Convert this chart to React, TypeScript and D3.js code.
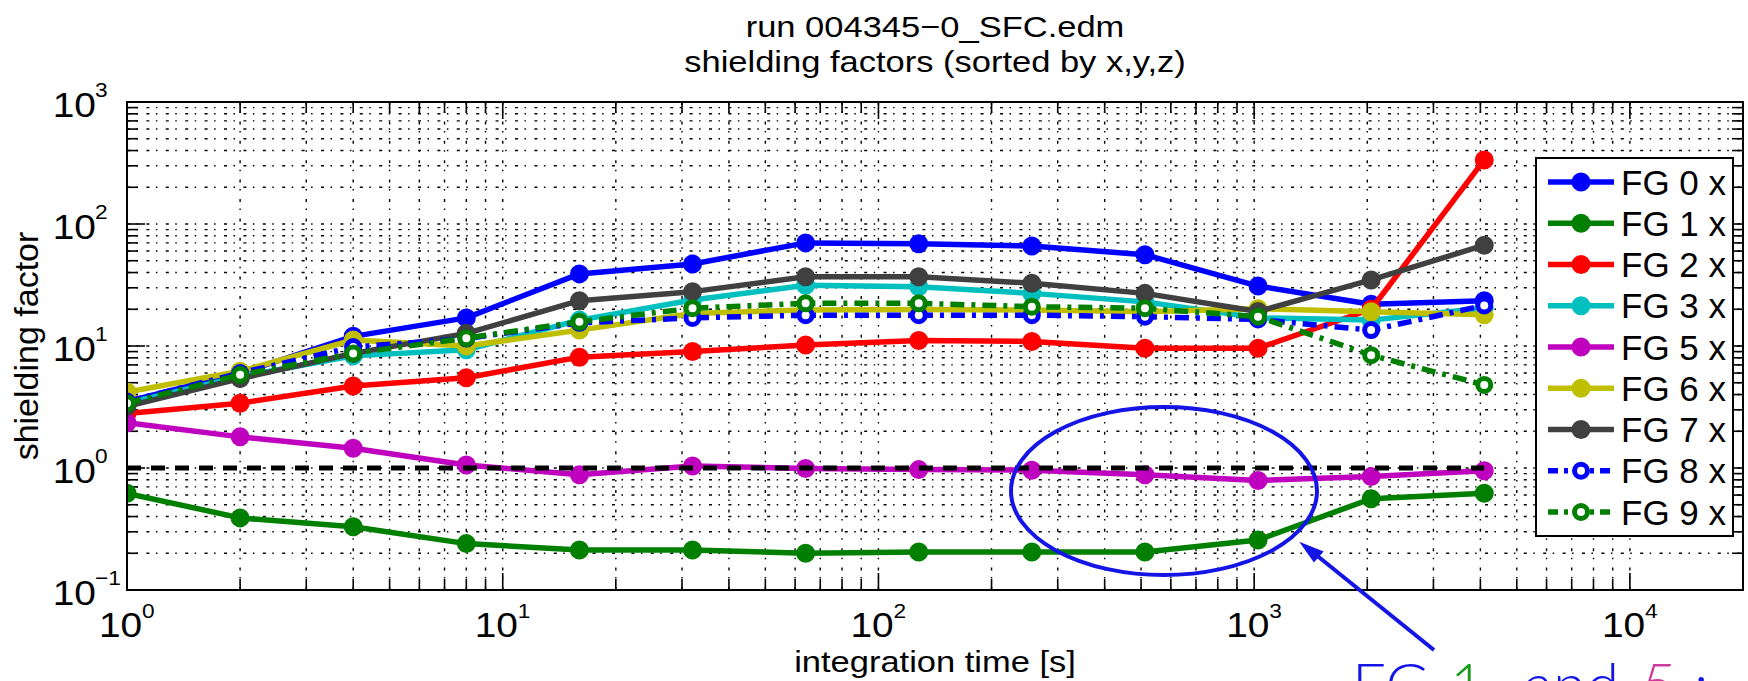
import React from "react";
import * as d3 from "d3";

// ---------- data ----------
const xTimes = [1, 2, 4, 8, 16, 32, 64, 128, 256, 512, 1024, 2048, 4096];
const fg0 = [3.5, 6.0, 12, 17, 39, 47, 70, 69, 66, 56, 31, 22, 23.5];
const fg1 = [0.62, 0.39, 0.33, 0.24, 0.213, 0.213, 0.2, 0.205, 0.205, 0.205, 0.257, 0.56, 0.62];
const fg2 = [2.8, 3.4, 4.7, 5.5, 8.1, 9.0, 10.2, 11.1, 10.9, 9.6, 9.6, 20, 335];
const fg3 = [3.4, 5.6, 8.3, 9.3, 16.3, 23.8, 31.5, 30.6, 27, 23, 17, 16.3, 20.5];
const fg5 = [2.35, 1.8, 1.45, 1.06, 0.88, 1.04, 0.99, 0.97, 0.96, 0.88, 0.79, 0.85, 0.95];
const fg6 = [4.2, 6.2, 11.2, 10, 13.5, 18.5, 19.7, 19.9, 19.7, 19.1, 20.2, 19.1, 18];
const fg7 = [3.2, 5.4, 8.7, 12.7, 23.5, 27.9, 37, 37, 32.7, 27, 19.2, 34.8, 67];
const fg8 = [3.5, 6.0, 9.8, 11.5, 15.5, 17, 17.9, 17.9, 17.9, 17.4, 16.5, 13.5, 21.5];
const fg9 = [3.4, 5.8, 8.7, 11.6, 15.8, 20.4, 22.4, 22.4, 21, 20.4, 17.4, 8.4, 4.8];
const seriesNames = ["FG 0 x", "FG 1 x", "FG 2 x", "FG 3 x", "FG 5 x", "FG 6 x", "FG 7 x", "FG 8 x", "FG 9 x"];
const refX = [1, 4096];
const refY = [1, 1];
const xTickExps = [0, 1, 2, 3, 4];
const yTickExps = [-1, 0, 1, 2, 3];
const titleLines = ["run 004345\u22120_SFC.edm", "shielding factors (sorted by x,y,z)"];
const xLabel = "integration time [s]";
const yLabel = "shielding factor";

// ---------- styles ----------
const seriesValues = [fg0, fg1, fg2, fg3, fg5, fg6, fg7, fg8, fg9];
const seriesColors = ["#0000ff", "#007f00", "#ff0000", "#00bfbf", "#bf00bf", "#bfbf00", "#404040", "#0000ff", "#007f00"];
const seriesDashed = [false, false, false, false, false, false, false, true, true];

const W = 1748;
const H = 681;
const L = 127, R = 1743, TOP = 102, BOT = 590;
const FONT = "'Liberation Sans', Arial, Helvetica, sans-serif";

const xScale = d3.scaleLog().domain([1, 20000]).range([L, R]);
const yScale = d3.scaleLog().domain([0.1, 1000]).range([BOT, TOP]);

function gridValues(lo: number, hi: number) {
  const out: { v: number; major: boolean }[] = [];
  for (let e = Math.floor(Math.log10(lo)); e <= Math.ceil(Math.log10(hi)); e++) {
    for (let k = 1; k <= 9; k++) {
      const v = k * Math.pow(10, e);
      if (v >= lo * 0.999 && v <= hi * 1.001) out.push({ v, major: k === 1 });
    }
  }
  return out;
}

const T = ({ x, y, sx = 1, size, anchor = "start", fill = "#000", children, weight = "normal", italic = false, family = FONT }: any) => (
  <text
    transform={`translate(${x},${y}) scale(${sx},1)`}
    fontSize={size}
    textAnchor={anchor}
    fill={fill}
    fontFamily={family}
    fontWeight={weight}
    fontStyle={italic ? "italic" : "normal"}
  >
    {children}
  </text>
);

function Marker({ cx, cy, color, open }: any) {
  if (open) return <circle cx={cx} cy={cy} r={6.5} fill="#fff" stroke={color} strokeWidth={5} />;
  return <circle cx={cx} cy={cy} r={7.5} fill={color} stroke={color} strokeWidth={4} />;
}

export default function App() {
  const xs = gridValues(1, 20000);
  const ys = gridValues(0.1, 1000);
  const line = d3
    .line<number>()
    .x((_, i) => xScale(xTimes[i]))
    .y((d) => yScale(d));
  const refLine = d3
    .line<number>()
    .x((_, i) => xScale(refX[i]))
    .y((d) => yScale(d));

  const gridDash = "3,6.5,1.5,8.4";
  const legX0 = 1536, legX1 = 1733, legY0 = 158, legY1 = 536;
  const legStep = (legY1 - legY0 - 48) / (seriesNames.length - 1);

  const blue = "#1414e6";

  return (
    <svg width={W} height={H} style={{ position: "absolute", left: 0, top: 0, background: "#fff" }}>
      <rect x={0} y={0} width={W} height={H} fill="#fff" />
      <defs>
        <clipPath id="plot">
          <rect x={L} y={TOP} width={R - L} height={BOT - TOP} />
        </clipPath>
      </defs>

      {/* grid */}
      <g stroke="#000" strokeWidth={1.4} strokeDasharray={gridDash} clipPath="url(#plot)">
        {xs.map((g, i) => (
          <line key={"gx" + i} x1={xScale(g.v)} x2={xScale(g.v)} y1={TOP} y2={BOT} />
        ))}
        {ys.map((g, i) => (
          <line key={"gy" + i} x1={L} x2={R} y1={yScale(g.v)} y2={yScale(g.v)} />
        ))}
      </g>

      {/* ticks */}
      <g stroke="#000" strokeWidth={1.6}>
        {xs.map((g, i) => {
          const len = g.major ? 17 : 11;
          const x = xScale(g.v);
          return (
            <g key={"tx" + i}>
              <line x1={x} x2={x} y1={BOT} y2={BOT - len} />
              <line x1={x} x2={x} y1={TOP} y2={TOP + len} />
            </g>
          );
        })}
        {ys.map((g, i) => {
          const len = g.major ? 18 : 11;
          const y = yScale(g.v);
          return (
            <g key={"ty" + i}>
              <line x1={L} x2={L + len} y1={y} y2={y} />
              <line x1={R} x2={R - len} y1={y} y2={y} />
            </g>
          );
        })}
      </g>

      {/* series */}
      <g clipPath="url(#plot)">
        {seriesValues.map((vals, si) => (
          <g key={"s" + si}>
            <path
              d={line(vals) || ""}
              fill="none"
              stroke={seriesColors[si]}
              strokeWidth={5.5}
              strokeLinejoin="round"
              strokeDasharray={seriesDashed[si] ? "14,7,4,7" : undefined}
            />
            {vals.map((v, i) => (
              <Marker key={i} cx={xScale(xTimes[i])} cy={yScale(v)} color={seriesColors[si]} open={seriesDashed[si]} />
            ))}
          </g>
        ))}
        <path d={refLine(refY) || ""} fill="none" stroke="#000" strokeWidth={5} strokeDasharray="14,10" />
      </g>

      {/* frame */}
      <rect x={L} y={TOP} width={R - L} height={BOT - TOP} fill="none" stroke="#000" strokeWidth={2} />

      {/* x tick labels */}
      {xTickExps.map((e) => {
        const x = xScale(Math.pow(10, e));
        return (
          <g key={"xl" + e}>
            <T x={x - 28} y={637} sx={1.08} size={36}>10</T>
            <T x={x + 15} y={618} sx={1.08} size={21}>{e < 0 ? "\u2212" + Math.abs(e) : String(e)}</T>
          </g>
        );
      })}

      {/* y tick labels */}
      {yTickExps.map((e) => {
        const y = yScale(Math.pow(10, e));
        return (
          <g key={"yl" + e}>
            <T x={96} y={y + 15} sx={1.08} size={36} anchor="end">10</T>
            <T x={95} y={y - 5} sx={1.08} size={21}>{e < 0 ? "\u2212" + Math.abs(e) : String(e)}</T>
          </g>
        );
      })}

      {/* titles */}
      <T x={(L + R) / 2} y={37} sx={1.15} size={30} anchor="middle">{titleLines[0]}</T>
      <T x={(L + R) / 2} y={72} sx={1.15} size={30} anchor="middle">{titleLines[1]}</T>
      <T x={(L + R) / 2} y={672} sx={1.15} size={30} anchor="middle">{xLabel}</T>
      <text transform={`translate(38,${(TOP + BOT) / 2}) rotate(-90)`} fontSize={34} textAnchor="middle" fontFamily={FONT} fill="#000">
        {yLabel}
      </text>

      {/* legend */}
      <rect x={legX0} y={legY0} width={legX1 - legX0} height={legY1 - legY0} fill="#fff" stroke="#000" strokeWidth={2} />
      {seriesNames.map((name, i) => {
        const cy = legY0 + 24 + i * legStep;
        return (
          <g key={"lg" + i}>
            <line
              x1={1548}
              x2={1614}
              y1={cy}
              y2={cy}
              stroke={seriesColors[i]}
              strokeWidth={5.5}
              strokeDasharray={seriesDashed[i] ? "10,6,4,6" : undefined}
            />
            <Marker cx={1581} cy={cy} color={seriesColors[i]} open={seriesDashed[i]} />
            <T x={1621} y={cy + 12.5} size={35}>{name}</T>
          </g>
        );
      })}

      {/* annotation */}
      <ellipse cx={1164} cy={491} rx={153} ry={84} fill="none" stroke={blue} strokeWidth={4} />
      <line x1={1434} y1={650} x2={1310} y2={550} stroke={blue} strokeWidth={4} />
      <polygon points="1302,544 1322,552 1314,561" fill={blue} stroke={blue} strokeWidth={2} />
      <g>
        <T x={1352} y={706} size={60} fill={blue} family="Lato, 'Open Sans', sans-serif" weight={300}>FG</T>
        <T x={1450} y={706} size={60} fill="#1a9a1a" family="Lato, 'Open Sans', sans-serif" weight={300}>1</T>
        <T x={1524} y={706} size={60} fill={blue} family="Lato, 'Open Sans', sans-serif" weight={300}>and</T>
        <T x={1640} y={706} size={60} fill="#cf3a9c" family="Lato, 'Open Sans', sans-serif" weight={300} italic>5</T>
        <T x={1694} y={706} size={60} fill={blue} family="Lato, 'Open Sans', sans-serif" weight={300}>:</T>
      </g>
    </svg>
  );
}
